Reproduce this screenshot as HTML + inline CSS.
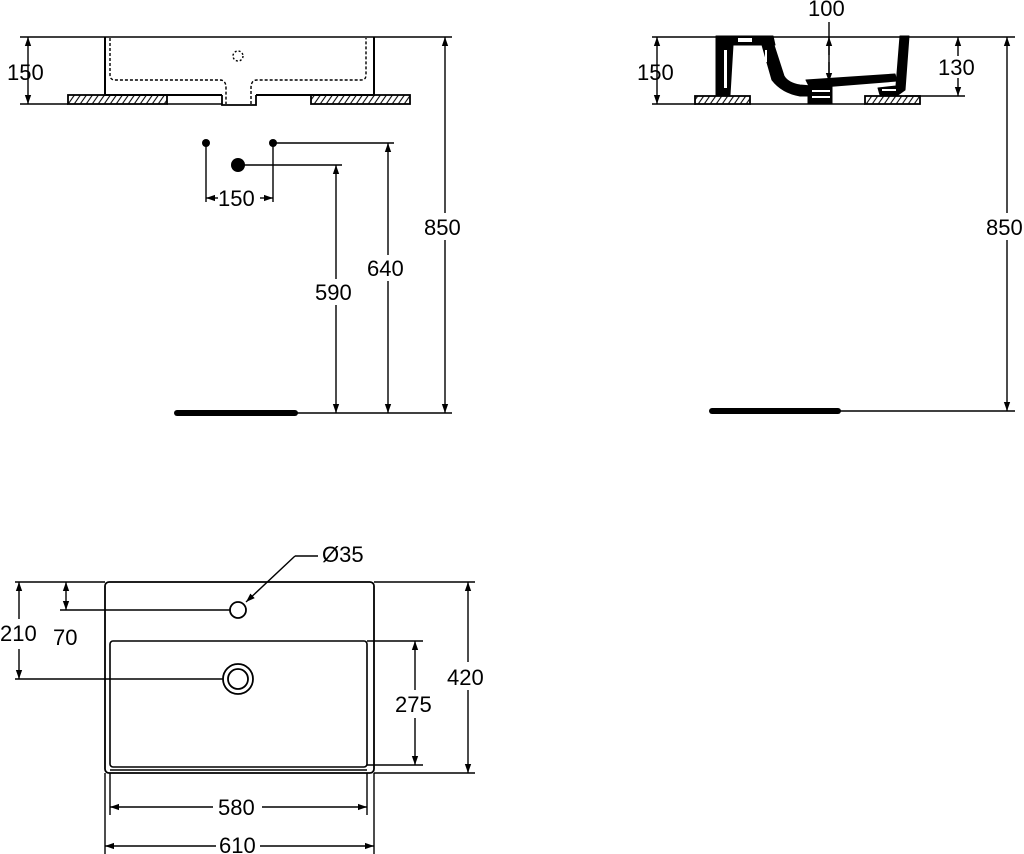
<!DOCTYPE html>
<html><head><meta charset="utf-8"><style>
html,body{margin:0;padding:0;background:#fff}
svg{display:block}
text{font-family:"Liberation Sans",Arial,sans-serif;font-size:22px;fill:#000}
</style></head><body>
<svg width="1024" height="854" viewBox="0 0 1024 854" xmlns="http://www.w3.org/2000/svg">
<defs>
<marker id="a" viewBox="0 0 10 10" refX="10" refY="5" markerWidth="9" markerHeight="9" orient="auto-start-reverse" markerUnits="userSpaceOnUse"><path d="M0,1.5 L10,5 L0,8.5z" fill="#000"/></marker>
<pattern id="h" width="6" height="10" patternUnits="userSpaceOnUse" patternTransform="skewX(-35)"><line x1="3" y1="0" x2="3" y2="10" stroke="#000" stroke-width="1.3"/></pattern>
</defs>
<g stroke="#000" fill="none" stroke-width="1.4">
<!-- TOP LEFT -->
<line x1="20" y1="37" x2="452" y2="37"/>
<line x1="20" y1="104" x2="68" y2="104"/>
<line x1="167" y1="104" x2="222" y2="104"/>
<rect x="68" y="95" width="99" height="9" fill="url(#h)" stroke-width="1.8"/>
<rect x="311" y="95" width="99" height="9" fill="url(#h)" stroke-width="1.8"/>
<path d="M105,37 V95 H222 M256,95 H374 V37" stroke-width="2"/>
<path d="M222,95 V105 H256 V95" stroke-width="1.8"/>
<path d="M110,38 V75 Q110,80 115,80 H220 Q226,80 226,88 V104 M251,104 V88 Q251,80 257,80 H361 Q366,80 366,75 V38" stroke-dasharray="3,2"/>
<circle cx="238" cy="56" r="5" stroke-dasharray="2,2"/>
<line x1="28" y1="37" x2="28" y2="104" marker-start="url(#a)" marker-end="url(#a)"/>
<line x1="206" y1="143" x2="206" y2="202"/>
<line x1="273" y1="143" x2="273" y2="202"/>
<line x1="206" y1="198" x2="218" y2="198" marker-start="url(#a)"/>
<line x1="260" y1="198" x2="273" y2="198" marker-end="url(#a)"/>
<line x1="273" y1="143" x2="394" y2="143"/>
<line x1="238" y1="165" x2="342" y2="165"/>
<line x1="336" y1="165" x2="336" y2="279" marker-start="url(#a)"/>
<line x1="336" y1="305" x2="336" y2="413" marker-end="url(#a)"/>
<line x1="388" y1="143" x2="388" y2="255" marker-start="url(#a)"/>
<line x1="388" y1="281" x2="388" y2="413" marker-end="url(#a)"/>
<line x1="445" y1="37" x2="445" y2="213" marker-start="url(#a)"/>
<line x1="445" y1="240" x2="445" y2="413" marker-end="url(#a)"/>
<line x1="296" y1="413" x2="452" y2="413"/>
<line x1="177" y1="413" x2="295" y2="413" stroke-width="6" stroke-linecap="round"/>
<!-- TOP RIGHT -->
<line x1="652" y1="37" x2="1015" y2="37"/>
<line x1="652" y1="104" x2="696" y2="104"/>
<line x1="750" y1="104" x2="865" y2="104"/>
<line x1="905" y1="96" x2="965" y2="96"/>
<rect x="695" y="96" width="55" height="8" fill="url(#h)" stroke-width="1.8"/>
<rect x="865" y="96" width="55" height="8" fill="url(#h)" stroke-width="1.8"/>
<line x1="657" y1="37" x2="657" y2="104" marker-start="url(#a)" marker-end="url(#a)"/>
<line x1="958" y1="37" x2="958" y2="56" marker-start="url(#a)"/>
<line x1="958" y1="78" x2="958" y2="96" marker-end="url(#a)"/>
<line x1="829" y1="22" x2="829" y2="82" />
<line x1="829" y1="55" x2="829" y2="37" marker-end="url(#a)"/>
<line x1="829" y1="62" x2="829" y2="82" marker-end="url(#a)"/>
<line x1="1007" y1="37" x2="1007" y2="213" marker-start="url(#a)"/>
<line x1="1007" y1="240" x2="1007" y2="411" marker-end="url(#a)"/>
<line x1="840" y1="411" x2="1015" y2="411"/>
<line x1="712" y1="411" x2="838" y2="411" stroke-width="6" stroke-linecap="round"/>
<!-- BOTTOM -->
<rect x="105" y="582" width="269" height="191" rx="4" stroke-width="1.8"/>
<rect x="110" y="641" width="257" height="126" rx="3" stroke-width="1.6"/>
<line x1="110" y1="770" x2="367" y2="770"/>
<circle cx="238" cy="610" r="8" stroke-width="1.8"/>
<circle cx="238" cy="679" r="15" stroke-width="1.8"/>
<circle cx="238" cy="679" r="10" stroke-width="1.8"/>
<line x1="15" y1="582" x2="105" y2="582"/>
<line x1="374" y1="582" x2="475" y2="582"/>
<line x1="374" y1="773" x2="475" y2="773"/>
<line x1="60" y1="610" x2="230" y2="610"/>
<line x1="15" y1="679" x2="223" y2="679"/>
<line x1="19" y1="582" x2="19" y2="619" marker-start="url(#a)"/>
<line x1="19" y1="649" x2="19" y2="679" marker-end="url(#a)"/>
<line x1="66" y1="582" x2="66" y2="610" marker-start="url(#a)" marker-end="url(#a)"/>
<line x1="367" y1="641" x2="423" y2="641"/>
<line x1="367" y1="765" x2="423" y2="765"/>
<line x1="415" y1="641" x2="415" y2="690" marker-start="url(#a)"/>
<line x1="415" y1="718" x2="415" y2="765" marker-end="url(#a)"/>
<line x1="468" y1="582" x2="468" y2="662" marker-start="url(#a)"/>
<line x1="468" y1="690" x2="468" y2="773" marker-end="url(#a)"/>
<line x1="110" y1="773" x2="110" y2="815"/>
<line x1="367" y1="773" x2="367" y2="815"/>
<line x1="105" y1="773" x2="105" y2="854"/>
<line x1="374" y1="773" x2="374" y2="854"/>
<line x1="110" y1="807" x2="213" y2="807" marker-start="url(#a)"/>
<line x1="262" y1="807" x2="367" y2="807" marker-end="url(#a)"/>
<line x1="105" y1="846" x2="216" y2="846" marker-start="url(#a)"/>
<line x1="260" y1="846" x2="374" y2="846" marker-end="url(#a)"/>
<line x1="318" y1="556" x2="295" y2="556"/>
<line x1="295" y1="556" x2="246" y2="602" marker-end="url(#a)"/>
</g>
<!-- dots -->
<g fill="#000">
<circle cx="206" cy="143" r="4"/>
<circle cx="273" cy="143" r="4"/>
<circle cx="238" cy="165" r="7"/>
</g>
<!-- profile -->
<g fill="#000" stroke="#000" stroke-width="1" stroke-linejoin="round">
<path d="M716,36 L773,36 L775,45 L733,45 L730,95 L716,95 Z"/>
<path d="M762,45 L774,45 L784,76 Q788,83 800,85 L812,86 L812,96 L800,96 Q782,93 772,80 Z"/>
<path d="M806,80 L895,74 L897,81 L810,88 Z"/>
<path d="M900,36 L909,36 L905,90 L898,95 L880,95 L878,88 L896,86 Z"/>
<rect x="808" y="86" width="24" height="18"/>
</g>
<g fill="#fff">
<rect x="724" y="50" width="3" height="38"/>
<rect x="738" y="38" width="14" height="4"/>
<rect x="812" y="90" width="18" height="2"/>
<rect x="812" y="96" width="18" height="2"/>
<rect x="882" y="89" width="14" height="2"/>
<rect x="765" y="50" width="2" height="12"/>
</g>
<g>
<text x="7" y="80">150</text>
<text x="218" y="206">150</text>
<text x="315" y="300">590</text>
<text x="367" y="276">640</text>
<text x="424" y="235">850</text>
<text x="808" y="16">100</text>
<text x="637" y="80">150</text>
<text x="938" y="75">130</text>
<text x="986" y="235">850</text>
<text x="322" y="562">Ø35</text>
<text x="0" y="641">210</text>
<text x="53" y="645">70</text>
<text x="395" y="712">275</text>
<text x="447" y="685">420</text>
<text x="218" y="815">580</text>
<text x="219" y="853">610</text>
</g>
</svg>
</body></html>
